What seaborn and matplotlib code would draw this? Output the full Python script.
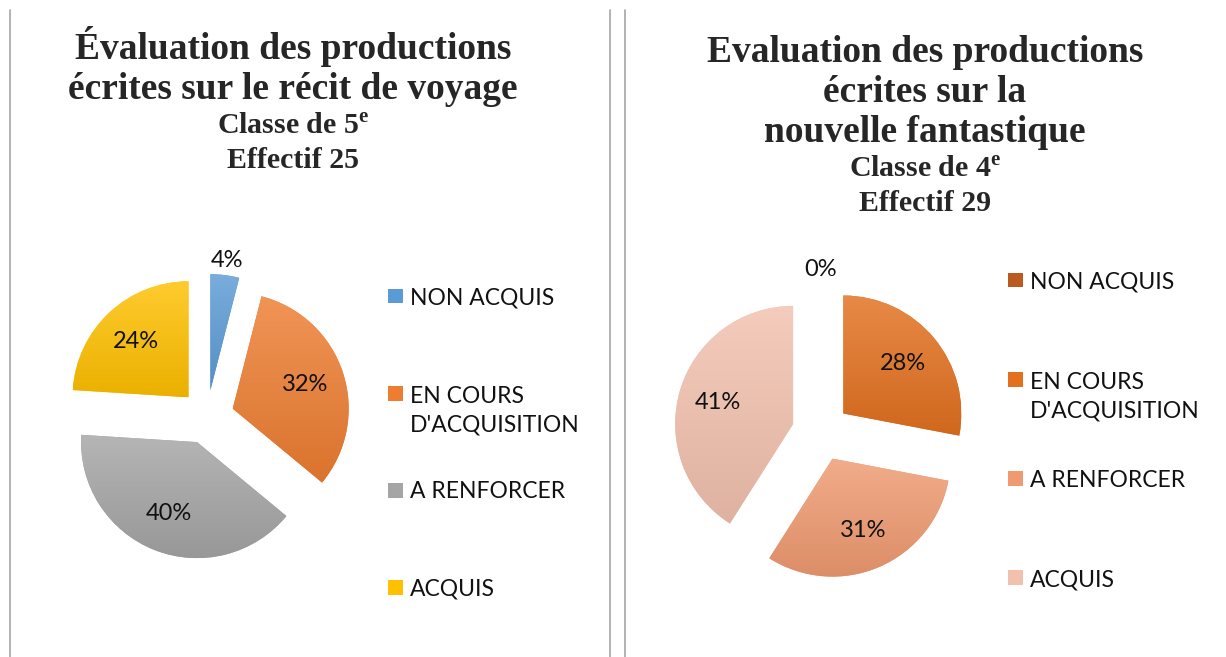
import numpy as np
import matplotlib
matplotlib.use("Agg")
import matplotlib.pyplot as plt
import seaborn as sns
from matplotlib.colors import LinearSegmentedColormap, to_rgb
from matplotlib.patches import Rectangle
from matplotlib.lines import Line2D

# Data #
categories = ["NON ACQUIS", "EN COURS\nD'ACQUISITION", "A RENFORCER", "ACQUIS"]
pct_5e = [4, 32, 40, 24]
pct_4e = [0, 28, 31, 41]

colors_5e = ["#5B9BD5", "#ED7D31", "#A5A5A5", "#FFC000"]
colors_4e = ["#BA5A1E", "#E2701F", "#EF9A70", "#F2C1AE"]

title_5e = ["Évaluation des productions", "écrites sur le récit de voyage"]
sub_5e = ["Classe de 5$^{\\mathbf{e}}$", "Effectif 25"]
title_4e = ["Evaluation des productions", "écrites sur la", "nouvelle fantastique"]
sub_4e = ["Classe de 4$^{\\mathbf{e}}$", "Effectif 29"]

W, H = 1226, 657
sns.set_theme(style="white")
plt.rcParams["mathtext.fontset"] = "custom"
plt.rcParams["mathtext.bf"] = "Liberation Serif:bold"
plt.rcParams["mathtext.rm"] = "Liberation Serif"

fig = plt.figure(figsize=(W / 100, H / 100), dpi=100)
fig.patch.set_facecolor("white")


def shade(c, f):
    r = np.array(to_rgb(c))
    if f > 0:
        return r + (1 - r) * f
    return r * (1 + f)


def draw_pie(cx, cy, R, explode_px, values, colors):
    L = 440
    ax = fig.add_axes([(cx - L / 2) / W, (H - cy - L / 2) / H, L / W, L / H])
    lim = L / 2 / R
    wedges, _, autotexts = ax.pie(
        values, colors=colors, startangle=90, counterclock=False,
        explode=[explode_px / R] * len(values),
        autopct=lambda p: f"{p:.0f}%", pctdistance=0.66,
        wedgeprops=dict(linewidth=0),
        textprops=dict(fontsize=17, family="Lato", color="#111111"),
    )
    # vertical gradient on each slice
    grad = np.linspace(0, 1, 256).reshape(-1, 1)
    for w, v, c in zip(wedges, values, colors):
        if v == 0:
            continue
        ext = w.get_path().get_extents()
        cmap = LinearSegmentedColormap.from_list("g", [shade(c, 0.18), shade(c, -0.08)])
        im = ax.imshow(grad, extent=(ext.x0, ext.x1, ext.y0, ext.y1), origin="upper",
                       cmap=cmap, aspect="auto", zorder=1.5, interpolation="bilinear")
        im.set_clip_path(w)
    # small slices: label outside
    for w, v, t in zip(wedges, values, autotexts):
        if v < 5:
            th = np.deg2rad((w.theta1 + w.theta2) / 2)
            x0, y0 = w.center
            t.set_position((x0 + 1.13 * np.cos(th), y0 + 1.13 * np.sin(th)))
        t.set_zorder(5)
    ax.set_xlim(-lim, lim)
    ax.set_ylim(-lim, lim)
    ax.set_aspect("auto")
    ax.axis("off")
    return ax


def draw_legend(x, y0, step, colors):
    gap = 30
    for i, (lab, col) in enumerate(zip(categories, colors)):
        y = y0 + i * step
        n = lab.count("\n")
        fig.patches.append(Rectangle((x / W, (H - y - 7.5) / H), 15 / W, 15 / H,
                                     transform=fig.transFigure, facecolor=col,
                                     edgecolor="none"))
        # baseline alignment is taken on the last line of the label
        fig.text((x + 22) / W, (H - y - 8.5 - n * gap) / H, lab, va="baseline", ha="left",
                 fontsize=16.5, family="Lato", color="#111111", linespacing=1.47)


def draw_titles(xc, lines, base0, sub, sub0):
    for i, s in enumerate(lines):
        fig.text(xc / W, (H - base0 - i * 40) / H, s, ha="center", va="baseline",
                 fontsize=27, family="Liberation Serif", fontweight="bold")
    for i, s in enumerate(sub):
        fig.text(xc / W, (H - sub0 - i * 33) / H, s, ha="center", va="baseline",
                 fontsize=21.5, family="Liberation Serif", fontweight="bold")


# Left chart
draw_pie(207, 417, 116, 27, pct_5e, colors_5e)
draw_legend(388, 296, 97, colors_5e)
draw_titles(293, title_5e, 59, sub_5e, 135)

# Right chart
draw_pie(821, 432, 118, 29, pct_4e, colors_4e)
draw_legend(1008, 280, 99.3, colors_4e)
draw_titles(925, title_4e, 62, sub_4e, 178)

# panel borders
for x in (10, 610, 625):
    fig.add_artist(Line2D([x / W, x / W], [0, (H - 10) / H], transform=fig.transFigure,
                          color="#A6A6A6", lw=1.2))

fig.savefig("out.png", dpi=100, facecolor="white")
